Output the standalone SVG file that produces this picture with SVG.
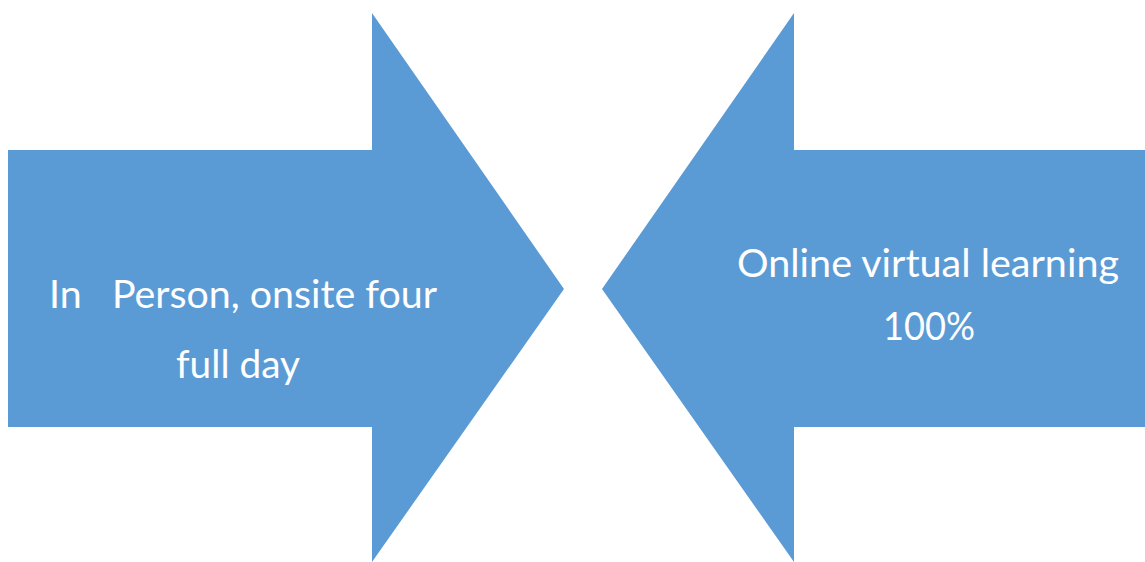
<svg xmlns="http://www.w3.org/2000/svg" width="1145" height="562" viewBox="0 0 1145 562">
<style>
.arrow{fill:#5B9BD5;stroke:none}
.lbl{font-family:Lato,"Open Sans","Liberation Sans",sans-serif;font-size:39px;fill:#FFFFFF}
</style>
<rect width="1145" height="562" fill="#FFFFFF"/>
<g id="arrow-left">
<polygon class="arrow" points="8,150 372,150 372,13 564,289 372,562 372,427 8,427"/>
<text class="lbl" x="49" y="308" textLength="388" lengthAdjust="spacingAndGlyphs" xml:space="preserve">In   Person, onsite four</text>
<text class="lbl" x="176" y="378" textLength="124" lengthAdjust="spacingAndGlyphs">full day</text>
</g>
<g id="arrow-right">
<polygon class="arrow" points="1145,150 794,150 794,13 602,289 794,562 794,427 1145,427"/>
<text class="lbl" x="737" y="277" textLength="382" lengthAdjust="spacingAndGlyphs">Online virtual learning</text>
<text class="lbl" x="883" y="340" textLength="92" lengthAdjust="spacingAndGlyphs">100%</text>
</g>
<g id="connectors"></g>
</svg>
